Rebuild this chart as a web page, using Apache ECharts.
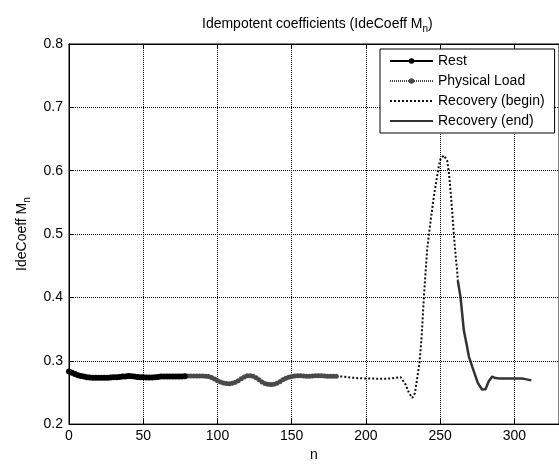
<!DOCTYPE html>
<html lang="en">
<head>
    <meta charset="utf-8">
    <title>Idempotent coefficients</title>
    <script src="https://cdn.jsdelivr.net/npm/echarts@6/dist/echarts.min.js"></script>
    <style>
        html, body { margin: 0; padding: 0; background: #fff; }
        #main { width: 559px; height: 467px; }
    </style>
</head>
<body>
    <div id="main"></div>
    <script>
    // values
    var restN = [0, 2, 4, 6, 8, 10, 12, 14, 16, 18, 20, 22, 24, 26, 28, 30, 32, 34, 36, 38,
        40, 42, 44, 46, 48, 50, 52, 54, 56, 58, 60, 62, 64, 66, 68, 70, 72, 74, 76, 78];
    var restM = [0.283, 0.281, 0.279, 0.277, 0.276, 0.275, 0.274, 0.2735, 0.273, 0.273,
        0.273, 0.273, 0.273, 0.273, 0.2735, 0.274, 0.274, 0.2745, 0.275, 0.275,
        0.276, 0.2755, 0.275, 0.2745, 0.274, 0.274, 0.2735, 0.2735, 0.2735, 0.274,
        0.2745, 0.275, 0.275, 0.275, 0.275, 0.275, 0.275, 0.275, 0.275, 0.2755];

    var loadN = [78, 80, 82, 84, 86, 88, 90, 92, 94, 96, 98, 100, 102, 104, 106, 108, 110,
        112, 114, 116, 118, 120, 122, 124, 126, 128, 130, 132, 134, 136, 138, 140, 142,
        144, 146, 148, 150, 152, 154, 156, 158, 160, 162, 164, 166, 168, 170, 172, 174,
        176, 178, 180];
    var loadM = [0.2755, 0.276, 0.276, 0.276, 0.276, 0.276, 0.276, 0.2755, 0.275, 0.2735,
        0.271, 0.2685, 0.2665, 0.265, 0.264, 0.2638, 0.2645, 0.266, 0.2685, 0.2715,
        0.2745, 0.2762, 0.2765, 0.2755, 0.273, 0.27, 0.2665, 0.264, 0.2628, 0.2625,
        0.263, 0.2645, 0.267, 0.27, 0.2725, 0.274, 0.275, 0.2758, 0.2762, 0.2762,
        0.276, 0.2755, 0.2755, 0.276, 0.2762, 0.2765, 0.2765, 0.276, 0.2755, 0.2755,
        0.2755, 0.2755];

    var recBeginN = [180, 185, 190, 195, 200, 205, 210, 215, 220, 223.4, 226.7, 229, 231.2,
        233, 236, 237.5, 239, 240.2, 241.3, 243.5, 245.8, 248, 249.1, 250.2, 252.5, 254.7,
        255.8, 257, 258.1, 259.2, 260.3, 261.4, 261.9];
    var recBeginM = [0.2755, 0.275, 0.2735, 0.2725, 0.272, 0.2718, 0.2717, 0.2718, 0.273,
        0.274, 0.2624, 0.249, 0.2415, 0.249, 0.296, 0.338, 0.4, 0.442, 0.478, 0.52,
        0.561, 0.5925, 0.608, 0.6185, 0.624, 0.616, 0.598, 0.567, 0.535, 0.499, 0.468,
        0.442, 0.426];

    var recEndN = [261.9, 263.7, 264.8, 265.9, 268.1, 269.3, 271.5, 273.8, 275.3, 278.2,
        280.5, 282.7, 285, 287.2, 290, 295, 300, 305, 307.4, 311.4];
    var recEndM = [0.426, 0.4, 0.374, 0.348, 0.322, 0.3066, 0.291, 0.2754, 0.265, 0.2546,
        0.255, 0.2676, 0.275, 0.2727, 0.272, 0.272, 0.272, 0.272, 0.271, 0.269];

    var seriesNames = ['Rest', 'Physical Load', 'Recovery (begin)', 'Recovery (end)'];

    function pairs(xs, ys) {
        return xs.map(function(x, i) { return [x, ys[i]]; });
    }

    var font = 'Liberation Sans, Arial, sans-serif';
    var fs = 14;
    var gridLine = { show: true, lineStyle: { color: '#000', width: 1, type: [1, 1] } };
    var subStyle = { fontSize: 10, padding: [10, 0, 0, 0], fontFamily: font, color: '#000' };

    var myChart = echarts.init(document.getElementById('main'), null, { renderer: 'canvas' });

    var option = {
        backgroundColor: '#fff',
        animation: false,
        textStyle: { fontFamily: font, color: '#000' },
        title: {
            text: 'Idempotent coefficients (IdeCoeff M{sub|n})',
            left: 197,
            top: 9,
            textStyle: {
                fontFamily: font,
                fontSize: fs,
                fontWeight: 'normal',
                color: '#000',
                rich: { sub: subStyle }
            }
        },
        legend: {
            orient: 'vertical',
            left: 380,
            top: 49,
            padding: [5, 10, 5, 9],
            itemGap: 6,
            itemWidth: 43,
            itemHeight: 7,
            backgroundColor: '#fff',
            borderColor: '#000',
            borderWidth: 1,
            borderRadius: 0,
            textStyle: { fontFamily: font, fontSize: fs, color: '#000' },
            data: [
                { name: seriesNames[0] },
                { name: seriesNames[1] },
                { name: seriesNames[2], itemStyle: { opacity: 0 } },
                { name: seriesNames[3], itemStyle: { opacity: 0 } }
            ]
        },
        grid: {
            left: 69,
            right: -2,
            top: 44,
            bottom: 39,
            show: true,
            borderColor: '#000',
            borderWidth: 1
        },
        xAxis: [{
            type: 'value',
            min: 0,
            max: 330,
            interval: 50,
            name: 'n',
            nameLocation: 'middle',
            nameGap: 10,
            nameTextStyle: { fontFamily: font, fontSize: fs, color: '#000' },
            axisLine: { show: true, onZero: false, lineStyle: { color: '#000', width: 1 } },
            axisTick: { show: true, inside: true, length: 5, lineStyle: { color: '#000' } },
            axisLabel: { fontFamily: font, fontSize: fs, color: '#000', margin: 5, showMaxLabel: false },
            splitLine: gridLine
        }, {
            type: 'value',
            position: 'top',
            min: 0,
            max: 330,
            interval: 50,
            axisLine: { show: true, lineStyle: { color: '#000', width: 1 } },
            axisTick: { show: true, inside: true, length: 5, lineStyle: { color: '#000' } },
            axisLabel: { show: false },
            splitLine: { show: false }
        }],
        yAxis: {
            type: 'value',
            min: 0.2,
            max: 0.8,
            interval: 0.1,
            name: 'IdeCoeff M{sub|n}',
            nameLocation: 'middle',
            nameGap: 30,
            nameTextStyle: {
                fontFamily: font,
                fontSize: fs,
                color: '#000',
                rich: { sub: subStyle }
            },
            axisLine: { show: true, lineStyle: { color: '#000', width: 1 } },
            axisTick: { show: true, inside: true, length: 5, lineStyle: { color: '#000' } },
            axisLabel: {
                fontFamily: font, fontSize: fs, color: '#000', margin: 6,
                formatter: function(v) { return v.toFixed(1); }
            },
            splitLine: gridLine
        },
        series: [{
            name: seriesNames[0],
            type: 'line',
            data: pairs(restN, restM),
            symbol: 'circle',
            symbolSize: 6,
            showSymbol: true,
            itemStyle: { color: '#000' },
            lineStyle: { color: '#000', width: 2 },
            z: 4
        }, {
            name: seriesNames[1],
            type: 'line',
            data: pairs(loadN, loadM),
            symbol: 'circle',
            symbolSize: 5,
            showSymbol: true,
            itemStyle: { color: '#4a4a4a' },
            lineStyle: { color: '#4a4a4a', width: 1, type: [1, 1] },
            z: 3
        }, {
            name: seriesNames[2],
            type: 'line',
            data: pairs(recBeginN, recBeginM),
            symbol: 'none',
            itemStyle: { color: '#111' },
            lineStyle: { color: '#111', width: 2, type: [2, 2] },
            z: 2
        }, {
            name: seriesNames[3],
            type: 'line',
            data: pairs(recEndN, recEndM),
            symbol: 'none',
            itemStyle: { color: '#333' },
            lineStyle: { color: '#333', width: 2.5 },
            z: 3
        }]
    };

    myChart.setOption(option);
    </script>
</body>
</html>
